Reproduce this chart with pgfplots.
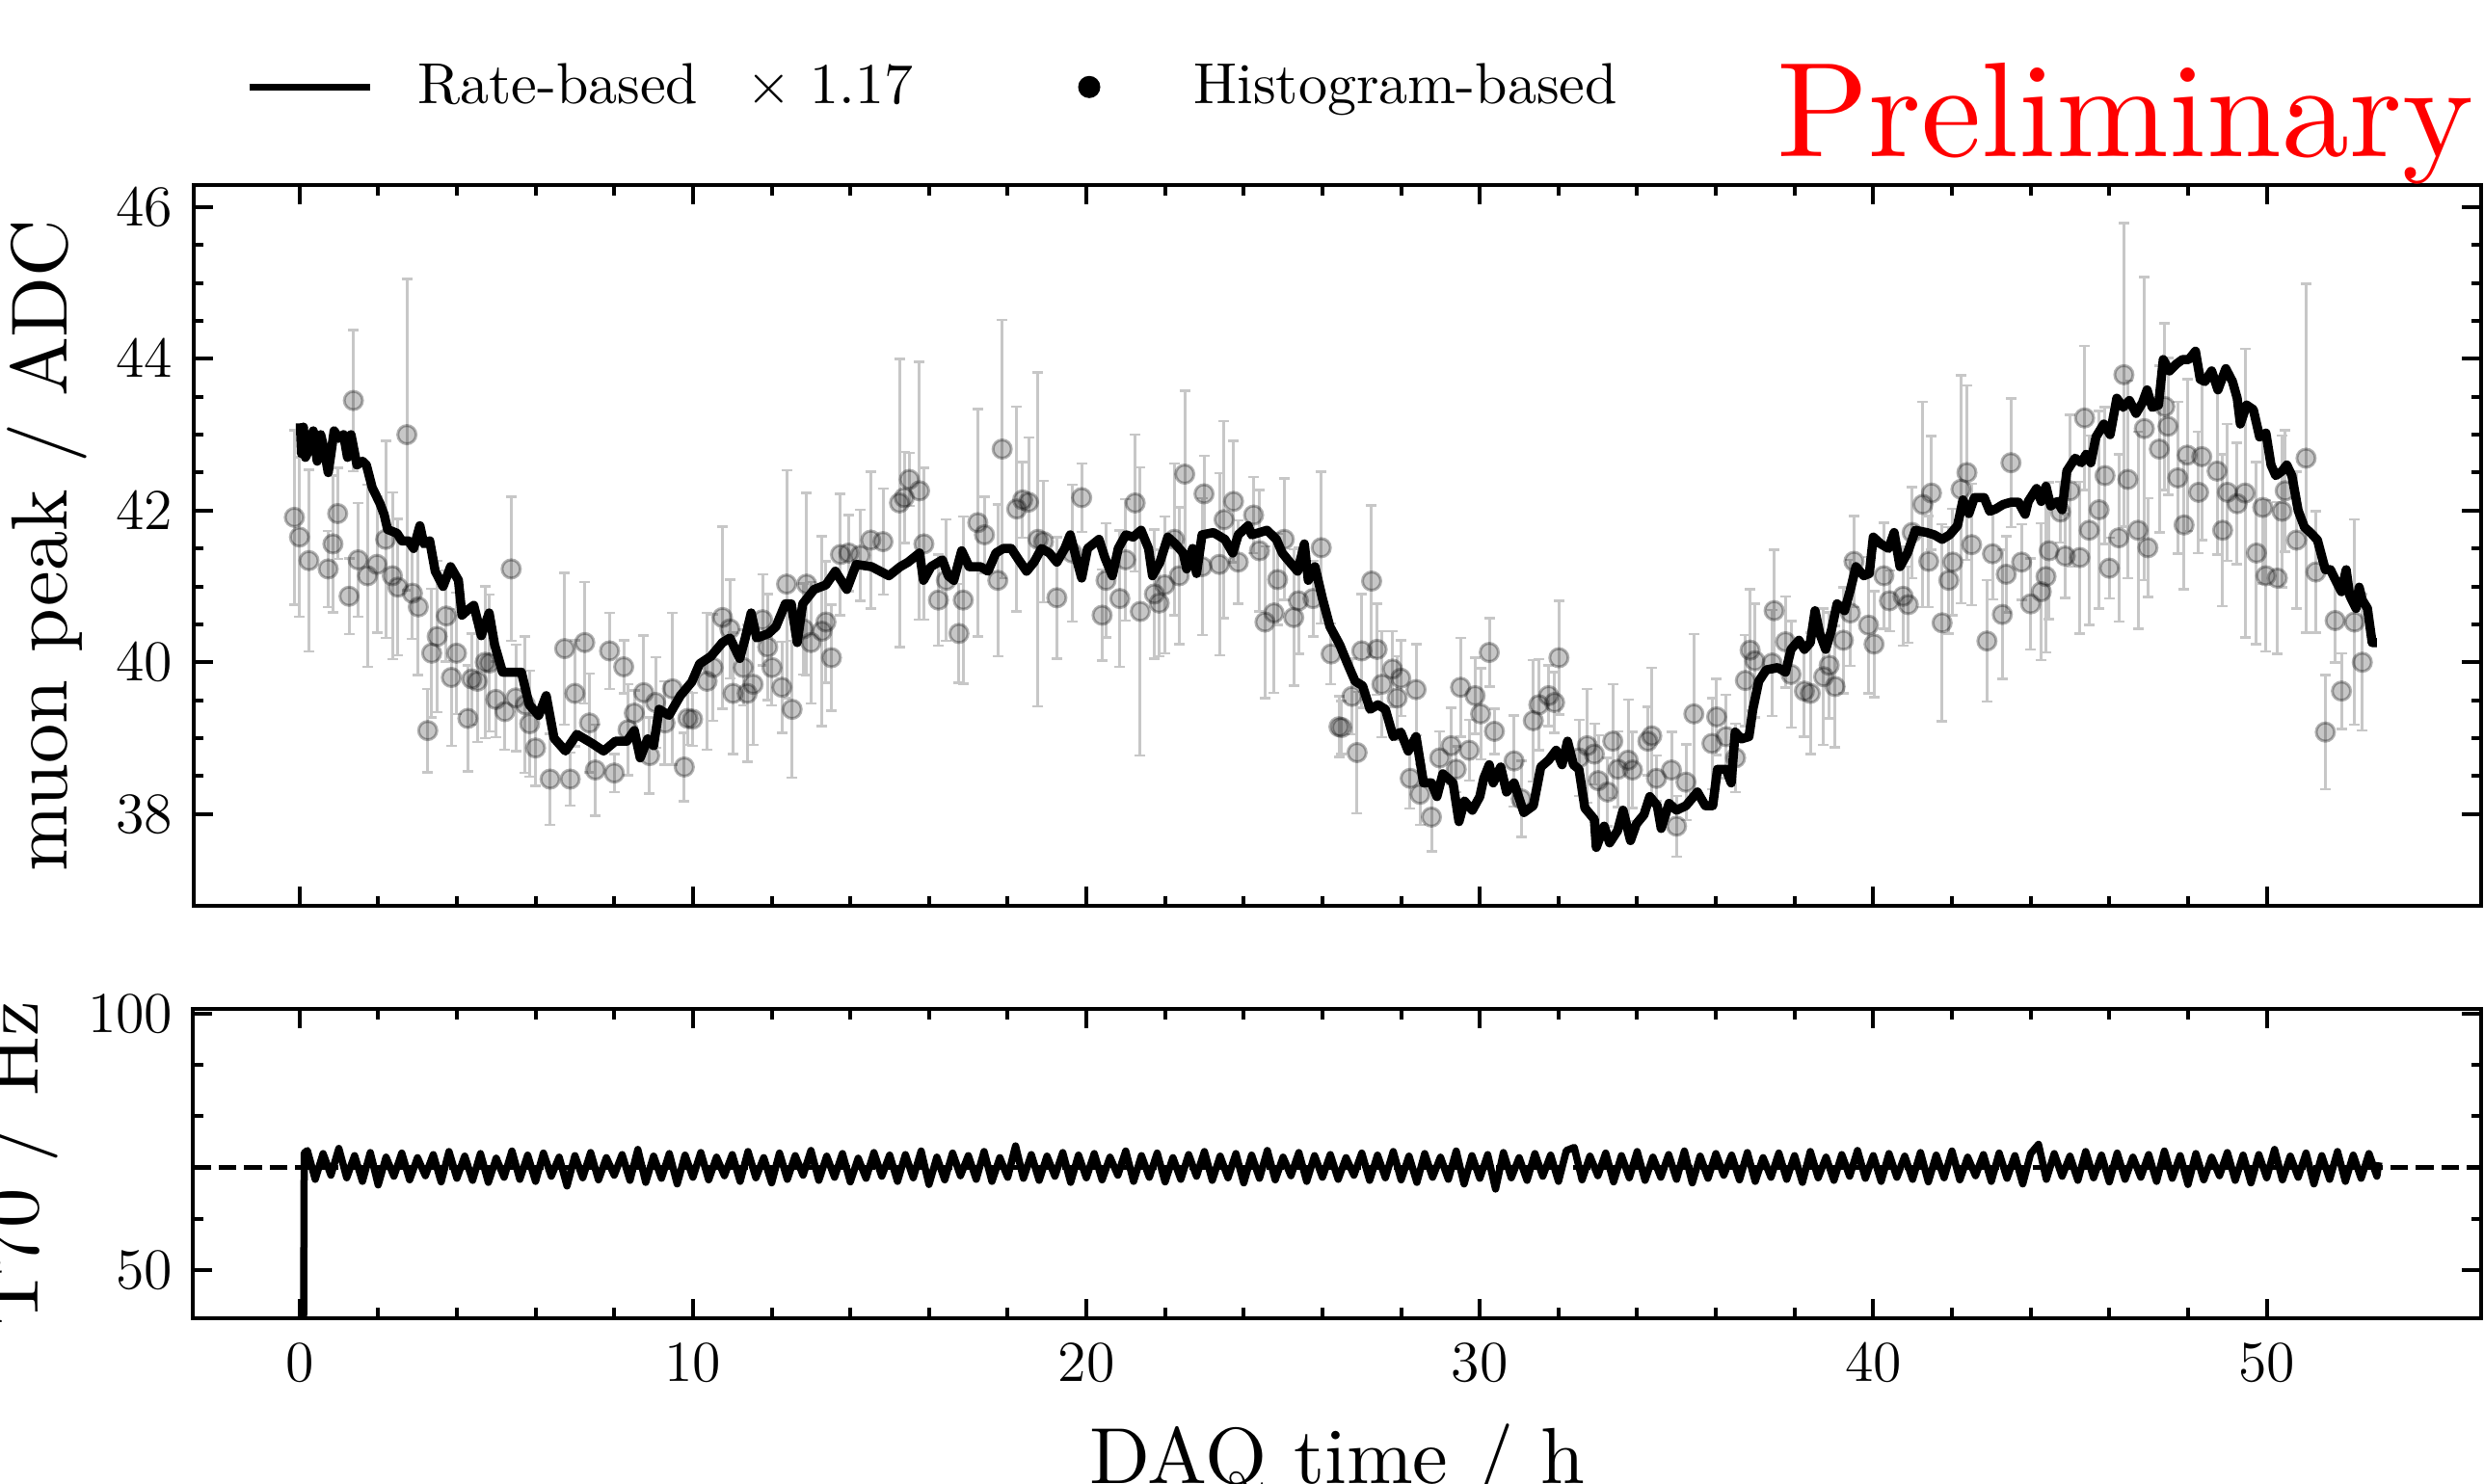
\documentclass[border=0pt]{standalone}
\usepackage{graphicx}
\usepackage{pgfplots}
\pgfplotsset{compat=1.18}
\usetikzlibrary{calc}

% text set in the 10pt design and scaled, as in the reference
\newcommand{\cmtext}[2]{\scalebox{#1}{\fontsize{10}{12}\selectfont #2}}

% histogram-based muon peak: time / h, peak / ADC, error
\pgfplotstableread{
h v e
-0.13 41.91 1.15
0.00 41.65 1.05
0.24 41.34 1.2
0.73 41.23 0.5
0.85 41.56 0.9
0.97 41.96 0.6
1.26 40.87 0.5
1.37 43.45 0.93
1.49 41.35 0.75
1.73 41.14 1.2
1.97 41.29 0.9
2.19 41.62 1.3
2.36 41.14 1.1
2.50 40.99 0.9
2.73 43.00 2.05
2.87 40.91 0.6
3.02 40.73 0.9
3.26 39.10 0.55
3.36 40.12 0.85
3.50 40.34 1.0
3.73 40.61 0.6
3.86 39.80 0.9
3.99 40.12 0.8
4.28 39.26 0.7
4.38 39.78 0.6
4.52 39.75 0.8
4.72 40.00 1.0
4.83 39.99 0.9
4.99 39.51 0.5
5.22 39.35 0.5
5.38 41.23 0.95
5.50 39.53 0.7
5.74 39.44 0.9
5.85 39.19 0.7
6.00 38.87 0.5
6.37 38.46 0.6
6.74 40.18 1.0
6.88 38.46 0.35
7.00 39.59 0.7
7.25 40.26 0.8
7.37 39.20 0.65
7.52 38.58 0.6
7.88 40.15 0.5
8.00 38.54 0.25
8.24 39.94 0.35
8.35 39.11 0.6
8.51 39.33 0.3
8.75 39.60 0.75
8.90 38.77 0.5
9.05 39.47 0.6
9.29 39.20 0.55
9.48 39.65 1.0
9.78 38.62 0.45
9.87 39.26 0.35
9.99 39.25 0.35
10.36 39.75 0.9
10.51 39.93 0.7
10.75 40.59 1.2
10.94 40.44 0.65
11.02 39.59 0.8
11.28 39.93 0.5
11.38 39.59 0.9
11.53 39.71 0.8
11.77 40.56 0.6
11.90 40.20 0.7
12.01 39.93 0.5
12.26 39.67 0.6
12.38 41.03 1.5
12.52 39.38 0.9
12.81 40.44 0.6
12.89 41.03 1.2
13.00 40.26 0.8
13.28 40.41 1.25
13.38 40.53 0.8
13.52 40.06 0.7
13.75 41.42 0.8
13.96 41.44 0.5
14.25 41.41 0.6
14.52 41.61 0.9
14.83 41.59 0.7
15.25 42.10 1.9
15.37 42.17 0.6
15.50 42.41 0.35
15.76 42.26 1.7
15.87 41.56 1.0
16.24 40.82 0.6
16.44 41.08 0.8
16.76 40.38 0.65
16.87 40.82 1.1
17.24 41.84 1.5
17.41 41.68 0.5
17.75 41.08 1.0
17.86 42.81 1.7
18.23 42.02 1.35
18.38 42.14 0.5
18.53 42.11 0.85
18.77 41.62 2.2
18.91 41.59 0.8
19.25 40.85 0.8
19.64 41.44 0.9
19.88 42.17 0.45
20.40 40.62 0.6
20.50 41.08 0.75
20.85 40.84 0.9
21.00 41.35 0.8
21.24 42.10 0.9
21.37 40.67 1.9
21.73 40.90 0.85
21.85 40.78 0.7
21.99 41.02 0.9
22.24 41.62 1.0
22.36 41.14 0.9
22.50 42.48 1.1
22.94 41.26 0.9
22.99 42.22 0.5
23.38 41.29 1.2
23.50 41.88 1.3
23.74 42.12 0.8
23.86 41.32 0.55
24.25 41.94 0.5
24.40 41.47 0.8
24.54 40.53 1.0
24.77 40.65 1.05
24.86 41.09 0.6
25.03 41.62 0.8
25.27 40.59 0.9
25.39 40.81 0.7
25.76 40.84 0.5
25.97 41.51 1.0
26.22 40.11 0.4
26.42 39.15 0.4
26.49 39.14 0.35
26.75 39.55 0.5
26.88 38.81 0.8
27.00 40.15 0.75
27.25 41.07 1.0
27.39 40.17 0.6
27.51 39.71 0.7
27.78 39.91 0.5
27.90 39.53 0.55
27.99 39.79 0.5
28.23 38.47 0.4
28.38 39.64 0.6
28.48 38.26 0.4
28.77 37.96 0.45
28.98 38.74 0.35
29.27 38.90 0.5
29.40 38.59 0.3
29.51 39.67 0.65
29.73 38.84 0.4
29.88 39.56 0.5
30.02 39.32 0.6
30.24 40.13 0.45
30.37 39.09 0.3
30.87 38.70 0.6
31.05 38.20 0.5
31.36 39.23 0.8
31.50 39.44 0.6
31.75 39.56 0.4
31.90 39.47 0.4
32.01 40.06 0.75
32.52 38.74 0.5
32.73 38.90 0.75
32.91 38.79 0.4
33.01 38.44 0.6
33.25 38.29 0.45
33.38 38.96 0.75
33.51 38.59 0.5
33.77 38.71 0.8
33.88 38.58 0.5
34.27 38.96 0.45
34.37 39.03 0.9
34.49 38.47 0.3
34.87 38.58 0.5
35.00 37.84 0.4
35.24 38.42 0.5
35.44 39.32 1.05
35.90 38.93 0.6
36.02 39.28 0.5
36.26 39.02 0.55
36.50 38.74 0.45
36.75 39.76 0.6
36.87 40.16 0.8
36.99 40.02 0.75
37.43 39.99 0.7
37.48 40.68 0.8
37.77 40.27 0.6
37.91 39.84 0.7
38.25 39.62 0.6
38.40 39.59 0.8
38.74 39.81 0.9
38.88 39.96 0.7
39.03 39.68 0.8
39.24 40.29 0.7
39.42 40.65 0.7
39.51 41.33 0.6
39.88 40.49 0.9
40.02 40.24 0.7
40.27 41.14 0.7
40.41 40.81 0.4
40.76 40.87 0.65
40.89 40.76 0.5
40.99 41.71 0.6
41.26 42.08 1.35
41.41 41.33 0.6
41.48 42.23 0.75
41.75 40.52 1.3
41.92 41.08 0.7
42.02 41.32 0.7
42.23 42.28 1.5
42.38 42.50 1.15
42.50 41.55 0.8
42.89 40.28 0.8
43.03 41.43 0.6
43.28 40.63 0.85
43.38 41.16 0.5
43.50 42.63 0.85
43.77 41.32 0.5
44.00 40.77 0.6
44.27 40.93 0.9
44.39 41.13 1.0
44.47 41.47 0.9
44.76 41.98 0.4
44.88 41.40 0.55
45.00 42.26 1.0
45.25 41.38 1.0
45.37 43.22 0.95
45.49 41.74 1.25
45.74 42.01 1.3
45.89 42.46 0.9
46.00 41.24 0.4
46.24 41.64 1.1
46.37 43.79 2.0
46.47 42.41 1.3
46.73 41.74 1.3
46.89 43.08 2.0
46.98 41.51 0.65
47.27 42.81 1.1
47.41 43.37 1.1
47.49 43.11 0.9
47.74 42.43 1.0
47.90 41.81 0.85
47.98 42.73 1.0
48.27 42.24 0.8
48.35 42.71 1.1
48.74 42.52 1.1
48.88 41.74 1.0
49.00 42.24 0.9
49.25 42.09 0.8
49.45 42.23 1.9
49.74 41.44 1.2
49.90 42.04 1.0
49.98 41.14 1.0
50.27 41.11 1.0
50.39 41.99 1.0
50.47 42.26 0.8
50.76 41.61 0.9
51.00 42.69 2.3
51.25 41.19 0.8
51.49 39.08 0.75
51.74 40.55 0.55
51.90 39.62 0.5
52.23 40.53 1.35
52.43 40.00 0.9
}\hist

\begin{document}
\begin{tikzpicture}
\pgfplotsset{
  every axis/.append style={
    scale only axis, width=474.7pt,
    xmin=-2.7, xmax=55.45,
    xtick={0,10,...,50}, minor x tick num=4,
    tick align=inside, major tick length=4pt, minor tick length=2.1pt,
    axis line style={line width=0.8pt},
    every tick/.style={black, line width=0.8pt},
    tick label style={font=\fontsize{12}{14}\selectfont},
    yticklabel style={xshift=-0.7pt},
    xticklabel style={yshift=-2pt},
  },
}

\begin{axis}[name=top, height=149.6pt,
  ymin=36.79, ymax=46.29, ytick={38,40,...,46}, minor y tick num=3,
  xticklabel=\empty,
  ylabel={\cmtext{1.65}{muon peak / ADC}},
  ylabel style={at={(axis description cs:-0.055,0.5)}, anchor=base},
  legend columns=2,
  legend style={at={(axis description cs:0.023,1.136)}, anchor=west,
    draw=none, fill=none, inner sep=0pt, outer sep=0pt,
    nodes={inner sep=0pt},
    /tikz/every odd column/.append style={column sep=9.2pt},
    /tikz/every even column/.append style={column sep=24pt}}]
\addlegendimage{legend image code/.code={\draw[black, line width=1.4pt] (0pt,0pt) -- (25pt,0pt);}}
\addlegendentry{\cmtext{1.2}{Rate-based\enspace\ $\times$ 1.17}}
\addlegendimage{legend image code/.code={\path[draw=none, fill=none] (0pt,-2pt) rectangle (25pt,2pt); \fill[black] (12.5pt,0pt) circle (2.1pt);}}
\addlegendentry{\cmtext{1.2}{Histogram-based}}

\addplot[forget plot, only marks, black, mark=*, mark size=1.9pt,
  mark options={fill=black, fill opacity=0.22, draw opacity=0.3, line width=0.6pt},
  error bars/.cd, y dir=both, y explicit,
  error bar style={line width=0.6pt, black!22},
  error mark options={rotate=90, mark size=1.1pt, line width=0.5pt, black!22}]
  table[x=h, y=v, y error=e] {\hist};

\addplot[forget plot, black, line width=1.9pt, line join=round] coordinates {
(0.02,43.15) (0.05,42.75) (0.10,43.10) (0.15,42.70) (0.24,42.80) (0.35,43.05) (0.45,42.65) (0.54,43.00)
(0.63,42.80) (0.73,42.50) (0.80,42.75) (0.88,43.05) (1.00,42.95) (1.12,43.00) (1.22,42.70) (1.31,43.00)
(1.46,42.60) (1.60,42.65) (1.70,42.60) (1.85,42.30) (2.04,42.10) (2.15,41.95) (2.24,41.75) (2.48,41.70)
(2.60,41.60) (2.77,41.60) (2.90,41.50) (3.06,41.80) (3.16,41.56) (3.31,41.60) (3.45,41.20) (3.65,41.00)
(3.84,41.26) (4.04,41.08) (4.13,40.62) (4.30,40.70) (4.43,40.75) (4.62,40.35) (4.82,40.65) (4.96,40.23)
(5.16,39.87) (5.40,39.87) (5.64,39.87) (5.84,39.44) (6.08,39.30) (6.27,39.56) (6.47,39.00) (6.76,38.83)
(7.05,39.05) (7.44,38.93) (7.73,38.83) (8.03,38.96) (8.32,38.96) (8.51,39.10) (8.66,38.74) (8.85,38.99)
(9.00,38.90) (9.14,39.38) (9.39,39.30) (9.68,39.56) (9.97,39.74) (10.17,39.98) (10.46,40.08) (10.75,40.26)
(10.94,40.32) (11.19,40.05) (11.33,40.32) (11.48,40.65) (11.62,40.32) (11.92,40.38) (12.11,40.47) (12.35,40.77)
(12.50,40.77) (12.65,40.26) (12.79,40.77) (13.08,40.96) (13.38,41.02) (13.62,41.20) (13.91,40.96) (14.15,41.29)
(14.54,41.26) (14.98,41.14) (15.27,41.26) (15.47,41.32) (15.76,41.44) (15.86,41.08) (16.05,41.26) (16.34,41.35)
(16.49,41.14) (16.63,41.08) (16.83,41.47) (17.02,41.26) (17.31,41.26) (17.50,41.20) (17.70,41.44) (17.89,41.50)
(18.09,41.50) (18.28,41.35) (18.48,41.20) (18.67,41.32) (18.86,41.50) (19.06,41.44) (19.25,41.32) (19.45,41.50)
(19.59,41.68) (19.74,41.38) (19.88,41.11) (20.03,41.50) (20.32,41.62) (20.47,41.38) (20.66,41.14) (20.81,41.50)
(21.00,41.68) (21.19,41.65) (21.39,41.74) (21.58,41.50) (21.68,41.14) (21.87,41.32) (22.07,41.65) (22.26,41.56)
(22.46,41.44) (22.55,41.23) (22.70,41.50) (22.80,41.17) (22.94,41.68) (23.23,41.71) (23.52,41.62) (23.72,41.44)
(23.86,41.68) (24.11,41.80) (24.20,41.68) (24.40,41.71) (24.59,41.74) (24.83,41.62) (24.98,41.44) (25.17,41.32)
(25.37,41.20) (25.54,41.56) (25.64,41.08) (25.81,41.26) (26.00,40.84) (26.19,40.47) (26.44,40.23) (26.63,39.99)
(26.83,39.75) (27.02,39.69) (27.21,39.38) (27.41,39.44) (27.60,39.38) (27.80,39.02) (27.99,39.08) (28.18,38.83)
(28.38,39.02) (28.57,38.41) (28.77,38.41) (28.91,38.23) (29.06,38.53) (29.32,38.41) (29.47,37.90) (29.61,38.17)
(29.81,38.05) (30.00,38.23) (30.10,38.47) (30.24,38.65) (30.34,38.41) (30.53,38.62) (30.68,38.29) (30.87,38.41)
(31.12,38.02) (31.36,38.11) (31.55,38.62) (31.75,38.71) (31.94,38.84) (32.09,38.65) (32.23,38.96) (32.38,38.65)
(32.52,38.59) (32.67,38.08) (32.91,37.93) (32.96,37.56) (33.16,37.84) (33.30,37.62) (33.50,37.78) (33.64,38.05)
(33.83,37.65) (33.98,37.87) (34.17,37.99) (34.32,38.23) (34.51,38.11) (34.61,37.81) (34.81,38.14) (35.00,38.05)
(35.24,38.11) (35.53,38.29) (35.73,38.11) (35.92,38.11) (36.04,38.59) (36.26,38.59) (36.39,38.41) (36.49,39.08)
(36.65,38.99) (36.84,39.02) (36.94,39.38) (37.09,39.75) (37.28,39.90) (37.57,39.93) (37.77,39.87) (37.91,40.17)
(38.11,40.29) (38.25,40.17) (38.40,40.26) (38.52,40.68) (38.64,40.38) (38.79,40.17) (38.93,40.41) (39.08,40.77)
(39.27,40.68) (39.42,40.96) (39.56,41.26) (39.76,41.14) (39.90,41.17) (40.00,41.65) (40.19,41.56) (40.39,41.50)
(40.53,41.71) (40.68,41.26) (40.87,41.44) (41.07,41.74) (41.36,41.71) (41.55,41.68) (41.75,41.62) (41.94,41.68)
(42.14,41.80) (42.28,42.14) (42.43,41.96) (42.57,42.17) (42.82,42.17) (42.96,41.99) (43.11,42.02) (43.30,42.08)
(43.50,42.11) (43.69,42.11) (43.86,41.95) (43.94,42.12) (44.15,42.29) (44.27,42.12) (44.39,42.32) (44.51,42.06)
(44.68,42.12) (44.80,42.01) (44.92,42.52) (45.13,42.69) (45.29,42.63) (45.41,42.74) (45.53,42.63) (45.66,42.97)
(45.86,43.14) (46.02,43.00) (46.19,43.48) (46.35,43.36) (46.51,43.45) (46.68,43.28) (46.84,43.42) (46.96,43.59)
(47.09,43.36) (47.25,43.39) (47.37,43.99) (47.53,43.84) (47.70,43.93) (47.86,43.99) (48.02,43.99) (48.19,44.10)
(48.31,43.73) (48.43,43.70) (48.60,43.84) (48.76,43.59) (48.96,43.87) (49.13,43.70) (49.25,43.48) (49.33,43.14)
(49.49,43.39) (49.66,43.33) (49.82,42.97) (49.98,43.02) (50.11,42.60) (50.23,42.46) (50.39,42.52) (50.51,42.60)
(50.64,42.46) (50.80,42.00) (50.96,41.78) (51.13,41.70) (51.29,41.61) (51.49,41.22) (51.62,41.22) (51.78,41.05)
(51.90,40.93) (52.02,41.22) (52.11,40.88) (52.27,40.71) (52.35,40.99) (52.43,40.82) (52.56,40.71) (52.68,40.26)
(52.80,40.26)
};
\end{axis}

\begin{axis}[name=bot, at={($(top.south west)+(0pt,-21.4pt)$)}, anchor=north west,
  height=64.1pt,
  ymin=40.7, ymax=100.9, ytick={50,100}, minor y tick num=4,
  xlabel={\cmtext{1.65}{DAQ time / h}},
  xlabel style={at={(axis description cs:0.5,-0.538)}, anchor=base},
  ylabel={\cmtext{1.65}{T70 / Hz}},
  ylabel style={at={(axis description cs:-0.0678,0.5)}, anchor=base}]
\addplot[black, line width=1pt, dash pattern=on 3.7pt off 1.6pt] coordinates {(-2.7,70) (55.45,70)};
\addplot[black, line width=1.5pt, line join=round] coordinates {
(0.10,30.0) (0.12,72.8)
(0.2,73.3) (0.4,67.7) (0.6,72.7) (0.8,68.5) (1.0,73.7) (1.2,68.0) (1.4,72.3) (1.6,67.3) (1.8,72.9) (2.0,66.6)
(2.2,72.0) (2.4,68.3) (2.6,72.8) (2.8,67.6) (3.0,71.9) (3.2,68.4) (3.4,72.5) (3.6,67.2) (3.8,73.1) (4.0,67.9)
(4.2,72.2) (4.4,67.5) (4.6,72.7) (4.8,67.1) (5.0,71.8) (5.2,68.1) (5.4,73.2) (5.6,67.7) (5.8,72.4) (6.0,67.3)
(6.2,72.8) (6.4,68.3) (6.6,72.0) (6.8,66.4) (7.0,72.3) (7.2,68.0) (7.4,72.9) (7.6,67.6) (7.8,71.9) (8.0,68.5)
(8.2,72.5) (8.4,67.5) (8.6,73.5) (8.8,67.1) (9.0,72.2) (9.2,67.9) (9.4,72.7) (9.6,66.8) (9.8,72.4) (10.0,68.1)
(10.2,72.9) (10.4,67.6) (10.6,72.0) (10.8,68.4) (11.0,72.5) (11.2,67.3) (11.4,73.1) (11.6,68.0) (11.8,71.9) (12.0,67.0)
(12.2,72.8) (12.4,67.7) (12.6,72.3) (12.8,68.5) (13.0,73.3) (13.2,67.5) (13.4,72.2) (13.6,68.1) (13.8,72.7) (14.0,67.2)
(14.2,71.8) (14.4,67.9) (14.6,72.9) (14.8,68.3) (15.0,72.4) (15.2,67.3) (15.4,72.5) (15.6,68.0) (15.8,73.2) (16.0,66.7)
(16.2,72.0) (16.4,67.6) (16.6,72.8) (16.8,68.4) (17.0,72.3) (17.2,67.7) (17.4,73.1) (17.6,67.3) (17.8,71.9) (18.0,68.1)
(18.2,74.2) (18.4,67.9) (18.6,72.5) (18.8,67.5) (19.0,72.2) (19.2,68.3) (19.4,72.9) (19.6,67.1) (19.8,72.4) (20.0,68.0)
(20.2,72.7) (20.4,67.6) (20.6,72.0) (20.8,68.5) (21.0,73.2) (21.2,67.3) (21.4,72.3) (21.6,68.1) (21.8,72.8) (22.0,67.2)
(22.2,71.9) (22.4,67.7) (22.6,72.5) (22.8,68.3) (23.0,73.1) (23.2,67.5) (23.4,72.2) (23.6,68.0) (23.8,72.7) (24.0,67.0)
(24.2,72.4) (24.4,67.9) (24.6,73.3) (24.8,67.6) (25.0,72.0) (25.2,68.4) (25.4,72.9) (25.6,67.3) (25.8,72.3) (26.0,68.1)
(26.2,72.5) (26.4,67.7) (26.6,71.9) (26.8,68.5) (27.0,72.8) (27.2,67.5) (27.4,72.4) (27.6,68.0) (27.8,73.1) (28.0,67.6)
(28.2,72.2) (28.4,67.1) (28.6,72.7) (28.8,68.1) (29.0,72.0) (29.2,67.7) (29.4,73.2) (29.6,66.8) (29.8,72.3) (30.0,67.9)
(30.2,72.5) (30.4,65.8) (30.6,72.9) (30.8,68.0) (31.0,71.9) (31.2,67.5) (31.4,72.7) (31.6,68.3) (31.8,72.4) (32.0,67.3)
(32.2,73.3) (32.4,73.9) (32.6,67.6) (32.8,72.2) (33.0,68.4) (33.2,72.8) (33.4,67.2) (33.6,72.3) (33.8,68.0) (34.0,73.1)
(34.2,67.5) (34.4,72.0) (34.6,68.1) (34.8,72.5) (35.0,67.7) (35.2,73.2) (35.4,67.0) (35.6,72.2) (35.8,67.9) (36.0,72.7)
(36.2,68.5) (36.4,72.4) (36.6,67.6) (36.8,72.9) (37.0,67.3) (37.2,71.9) (37.4,68.1) (37.6,72.8) (37.8,67.7) (38.0,72.3)
(38.2,67.1) (38.4,73.1) (38.6,68.0) (38.8,72.0) (39.0,67.5) (39.2,72.5) (39.4,68.3) (39.6,73.3) (39.8,67.9) (40.0,72.3)
(40.2,67.3) (40.4,72.7) (40.6,68.1) (40.8,72.2) (41.0,67.7) (41.2,72.9) (41.4,67.2) (41.6,72.4) (41.8,68.0) (42.0,73.2)
(42.2,67.6) (42.4,72.0) (42.6,68.4) (42.8,72.5) (43.0,67.3) (43.2,72.8) (43.4,67.9) (43.6,72.3) (43.8,66.8) (44.0,72.7)
(44.2,74.5) (44.4,67.7) (44.6,72.7) (44.8,68.3) (45.0,72.2) (45.2,67.5) (45.4,73.1) (45.6,68.0) (45.8,72.4) (46.0,67.2)
(46.2,72.8) (46.4,67.7) (46.6,72.0) (46.8,68.1) (47.0,72.5) (47.2,67.3) (47.4,73.2) (47.6,67.9) (47.8,72.3) (48.0,66.7)
(48.2,72.7) (48.4,67.6) (48.6,72.0) (48.8,68.4) (49.0,72.9) (49.2,67.5) (49.4,72.4) (49.6,67.0) (49.8,72.5) (50.0,68.0)
(50.2,73.5) (50.4,67.6) (50.6,72.2) (50.8,68.1) (51.0,72.8) (51.2,66.8) (51.4,72.3) (51.6,67.7) (51.8,73.1) (52.0,67.3)
(52.2,72.4) (52.4,67.9) (52.6,72.7) (52.8,68.3) (52.85,71.0)
};
\end{axis}

\node[anchor=base east, text=red, inner sep=0pt]
  at ($(top.north east)+(-1.4pt,5.9pt)$) {\cmtext{2.8}{Preliminary}};

\pgfresetboundingbox
\useasboundingbox ($(top.north west)+(-40.1pt,38.4pt)$) rectangle ($(bot.south east)+(0.6pt,-34.3pt)$);
\end{tikzpicture}
\end{document}
